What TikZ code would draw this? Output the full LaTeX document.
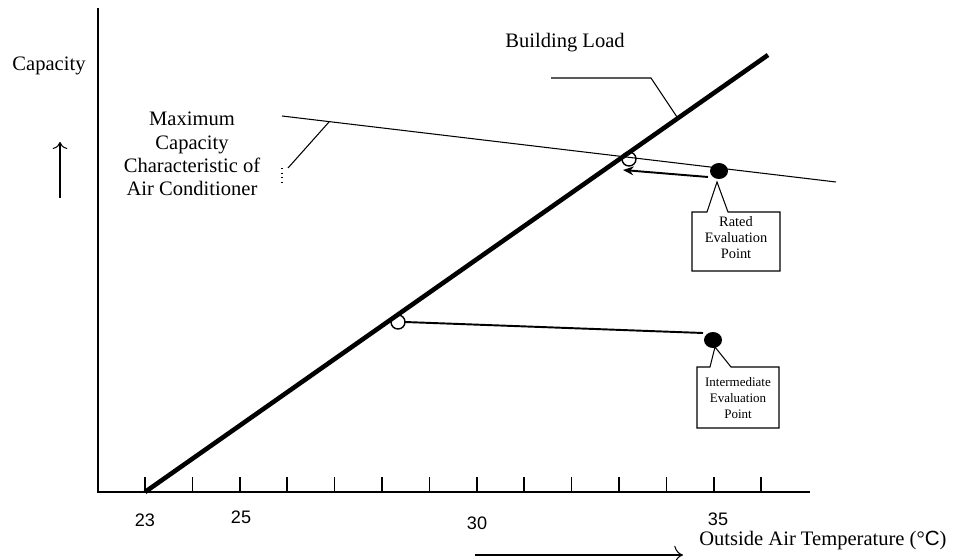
\documentclass[tikz,border=0pt]{standalone}
\usepackage{fontspec}
\setmainfont{Liberation Serif}
\newfontfamily\numfont{Liberation Sans}
\usetikzlibrary{arrows.meta}

\tikzset{
  axisline/.style={line width=1.2pt},
  thinline/.style={line width=0.6pt},
  loadline/.style={line width=2.6pt},
  tickline/.style={line width=1pt},
  openmark/.style={line width=0.8pt},
  callout/.style={line width=0.6pt, line join=miter},
  bigtext/.style={font=\fontsize{11.7}{13.2}\selectfont, align=center, inner sep=0pt},
  numtext/.style={font=\numfont\fontsize{10.3}{12}\selectfont, inner sep=0pt},
  smalltext/.style={font=\fontsize{8.2}{9.1}\selectfont, align=center, inner sep=0pt},
  tinytext/.style={font=\fontsize{7.4}{9.1}\selectfont, align=center, inner sep=0pt}
}

\begin{document}
\begin{tikzpicture}[x=0.02cm, y=-0.02cm]
\useasboundingbox (0,0) rectangle (956,560);

% Axes
\coordinate (origin) at (98,492);
\coordinate (ytop) at (98,8);
\coordinate (xend) at (810,492);
\draw [axisline] (ytop) -- (origin) -- (xend);%

% Ticks from 23 to 36
\foreach \i in {0,...,13}
  \draw [tickline] (145+47.4*\i,492) -- (145+47.4*\i,477);%

% Tick labels
\node [numtext] (t23) at (145,520) {23};%
\node [numtext] (t25) at (241,517) {25};%
\node [numtext] (t30) at (477,523) {30};%
\node [numtext] (t35) at (718,519) {35};%

% Axis titles
\node [bigtext] (captitle) at (49,66) {Capacity};%
\coordinate (upfoot) at (60,198);
\coordinate (uphead) at (60,142);
\draw [thinline, -{To[length=4pt]}] (upfoot) -- (uphead);%
\node [bigtext, anchor=west] (temptitle) at (699,541) {Outside Air Temperature (°{\numfont C})};%
\coordinate (rightfoot) at (475,555);
\coordinate (righthead) at (683,555);
\draw [thinline, -{To[length=5pt]}] (rightfoot) -- (righthead);%

% Open marks on the building load line
\draw [openmark] (629,159) circle (7);%
\draw [openmark] (398,322) circle (7);%
\coordinate (ratedopen) at (623,170);
\coordinate (interopen) at (405,322);

% Maximum capacity characteristic
\coordinate (capA) at (282,116);
\coordinate (capB) at (836,182);
\draw [thinline] (capA) -- (capB);%
\node [bigtext] (caplabel) at (192,154) {Maximum\\Capacity\\Characteristic of\\Air Conditioner};%
\coordinate (cappin) at (329,122);
\coordinate (capfoot) at (288,168);
\draw [thinline] (cappin) -- (capfoot);%
\draw [thinline, dotted] (282,168) -- (282,182);%

% Building load
\coordinate (loadA) at (145,492);
\coordinate (loadB) at (768,55);
\draw [loadline] (loadA) -- (loadB);%
\node [bigtext] (loadlabel) at (565,43) {Building Load};%
\coordinate (loadleft) at (551,78);
\coordinate (loadbend) at (651,78);
\coordinate (loadpin) at (677,117);
\draw [thinline] (loadleft) -- (loadbend) -- (loadpin);%

% Rated evaluation point
\fill (719,171) ellipse (9 and 8);%
\coordinate (ratedpt) at (708,177);
\draw [line width=1.1pt, -{Stealth[length=6pt,width=5pt]}] (ratedpt) -- (ratedopen);%
\draw [callout] (707,212) -- (717,182) -- (728,212) -- (780,212) -- (780,271) -- (692,271) -- (692,212) -- cycle;%
\node [smalltext] (ratedlabel) at (736,238) {Rated\\Evaluation\\Point};%

% Intermediate evaluation point
\fill (713,340) ellipse (9 and 8);%
\coordinate (interpt) at (703,333);
\draw [line width=1.1pt] (interpt) -- (interopen);%
\draw [callout] (710,367) -- (715,347) -- (731,367) -- (779,367) -- (779,428) -- (697,428) -- (697,367) -- cycle;%
\node [tinytext] (interlabel) at (738,398) {Intermediate\\Evaluation\\Point};%
\end{tikzpicture}
\end{document}
